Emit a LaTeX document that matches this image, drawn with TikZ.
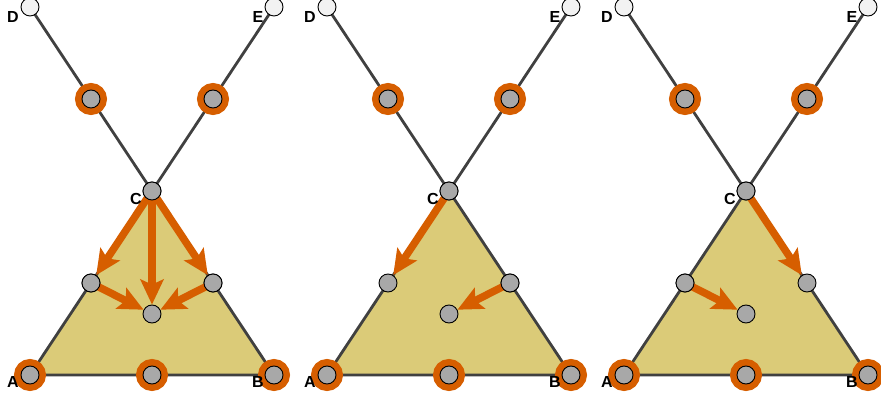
\documentclass[tikz,border=0pt]{standalone}
\usepackage{fontspec}
\setmainfont{Liberation Sans}
\usetikzlibrary{arrows.meta}
\definecolor{orng}{RGB}{214,94,0}
\definecolor{tri}{RGB}{219,203,120}
\definecolor{gnd}{RGB}{168,168,168}
\definecolor{wnd}{RGB}{242,242,242}
\definecolor{edg}{RGB}{64,64,64}
\tikzset{
  gnode/.style={circle, draw=black, line width=0.9pt, fill=gnd, minimum size=18pt, inner sep=0pt},
  wnode/.style={circle, draw=black, line width=0.9pt, fill=wnd, minimum size=18pt, inner sep=0pt},
  ringnode/.style={circle, draw=orng, line width=7.5pt, minimum size=24.5pt, inner sep=0pt},
  edge/.style={draw=edg, line width=2.8pt},
  flow/.style={draw=orng, line width=7.5pt, -{Stealth[length=25pt 0 0,width=23pt 0,inset=5pt 0]}, shorten <=-6pt},
  lbl/.style={font=\fontsize{16}{16}\selectfont\bfseries, inner sep=0pt}
}
\begin{document}
\begin{tikzpicture}[x=1pt,y=-1pt]
\useasboundingbox (0,0) rectangle (881,403);
\foreach \p/\o in {1/0,2/297,3/594}{
  \coordinate (A\p) at (30+\o,375);
  \coordinate (B\p) at (274+\o,375);
  \coordinate (C\p) at (152+\o,191);
  \coordinate (D\p) at (30+\o,7);
  \coordinate (E\p) at (274+\o,7);
  \coordinate (M\p) at (152+\o,375);
  \coordinate (P\p) at (91+\o,99);
  \coordinate (Q\p) at (213+\o,99);
  \coordinate (L\p) at (91+\o,283);
  \coordinate (R\p) at (213+\o,283);
  \coordinate (O\p) at (152+\o,314);
  \draw[edge, fill=tri, line join=round] (A\p) -- (B\p) -- (C\p) -- cycle;
  \draw[edge] (D\p) -- (C\p);
  \draw[edge] (E\p) -- (C\p);
  \foreach \n in {A,B,M,P,Q}{
    \node[ringnode] (r\n\p) at (\n\p) {};
  }
}
% node circles
\foreach \p in {1,2,3}{
  \foreach \n in {A,B,C,M,P,Q,L,R,O}{
    \node[gnode] (n\n\p) at (\n\p) {};
  }
  \node[wnode] (nD\p) at (D\p) {};
  \node[wnode] (nE\p) at (E\p) {};
}
% arrows
\draw[flow] (nC1) -- (nL1);
\draw[flow] (nC1) -- (nO1);
\draw[flow] (nC1) -- (nR1);
\draw[flow] (nL1) -- (nO1);
\draw[flow] (nR1) -- (nO1);
\draw[flow] (nC2) -- (nL2);
\draw[flow] (nR2) -- (nO2);
\draw[flow] (nC3) -- (nR3);
\draw[flow] (nL3) -- (nO3);
% redraw source circles on top
\foreach \n in {C1,L1,R1,C2,R2,C3,L3}{
  \node[gnode] (t\n) at (n\n) {};
}
\foreach \p/\o in {1/0,2/297,3/594}{
  \node[lbl] (lA\p) at (13+\o,382) {A};
  \node[lbl] (lB\p) at (258+\o,382) {B};
  \node[lbl] (lC\p) at (136+\o,199) {C};
  \node[lbl] (lD\p) at (13+\o,17) {D};
  \node[lbl] (lE\p) at (258+\o,17) {E};
}
\end{tikzpicture}
\end{document}
